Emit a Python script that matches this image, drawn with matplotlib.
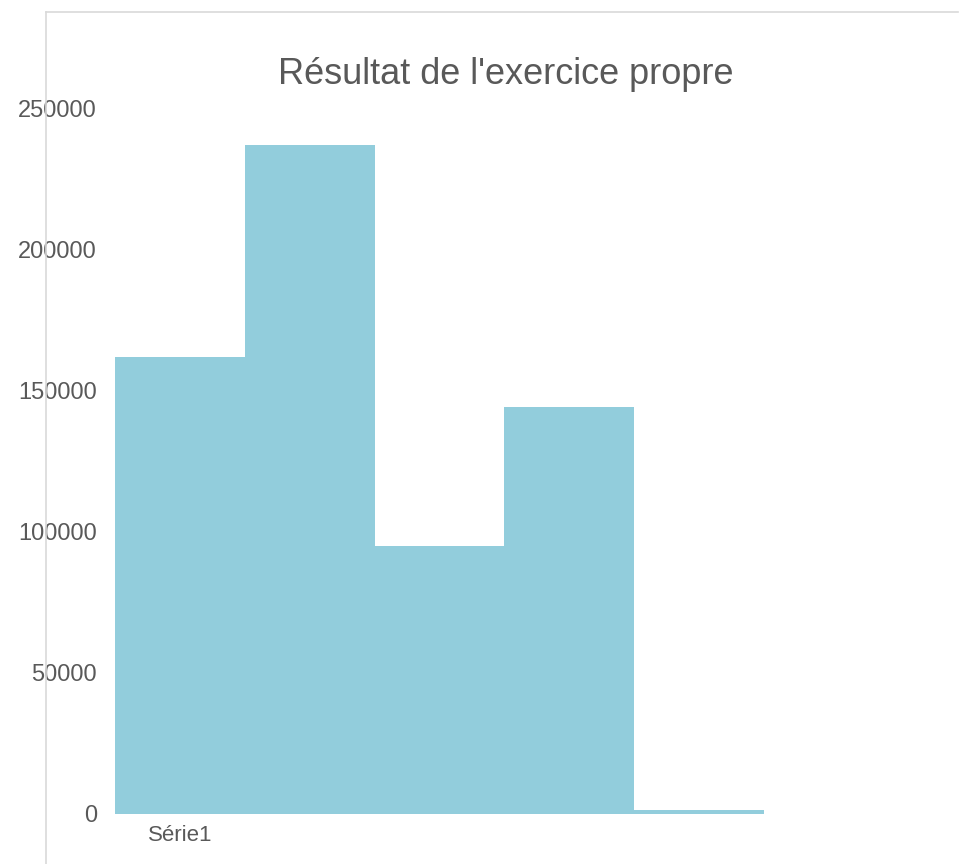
import matplotlib.pyplot as plt
import numpy as np
from matplotlib.lines import Line2D

# Data
values = [162000, 237000, 95000, 144000, 1400]
category = 'Série1'
y_ticks = [0, 50000, 100000, 150000, 200000, 250000]

bar_color = '#92CDDC'
text_color = '#595959'

plt.rcParams['font.family'] = ['Liberation Sans', 'DejaVu Sans']

W, H = 959, 864
fig = plt.figure(figsize=(W / 100, H / 100), dpi=100)

# plot area placed by pixel
left, right, top, bottom = 115, 764, 108, 814
ax = fig.add_axes([left / W, 1 - bottom / H, (right - left) / W, (bottom - top) / H])

x = np.arange(len(values))
ax.bar(x, values, width=1.0, color=bar_color, edgecolor='none')

ax.set_xlim(-0.5, len(values) - 0.5)
ax.set_ylim(0, 250000)
ax.set_yticks(y_ticks)
ax.set_yticklabels([str(v) for v in y_ticks])
ax.set_xticks([0])
ax.set_xticklabels([category])
ax.tick_params(axis='y', length=0, pad=13, labelsize=17, labelcolor=text_color)
ax.tick_params(axis='x', length=0, pad=8, labelsize=16, labelcolor=text_color)
for s in ax.spines.values():
    s.set_visible(False)

# chart frame (left and top edges)
fig.add_artist(Line2D([46 / W, 46 / W], [0, 1 - 12 / H], transform=fig.transFigure,
                      color='#D9D9D9', lw=1.2))
fig.add_artist(Line2D([46 / W, 958 / W], [1 - 12 / H, 1 - 12 / H], transform=fig.transFigure,
                      color='#D9D9D9', lw=1.2))

fig.text(506 / W, 1 - 74 / H, "Résultat de l'exercice propre", ha='center', va='center',
         fontsize=26, color=text_color)

plt.savefig('out.png', dpi=100)
